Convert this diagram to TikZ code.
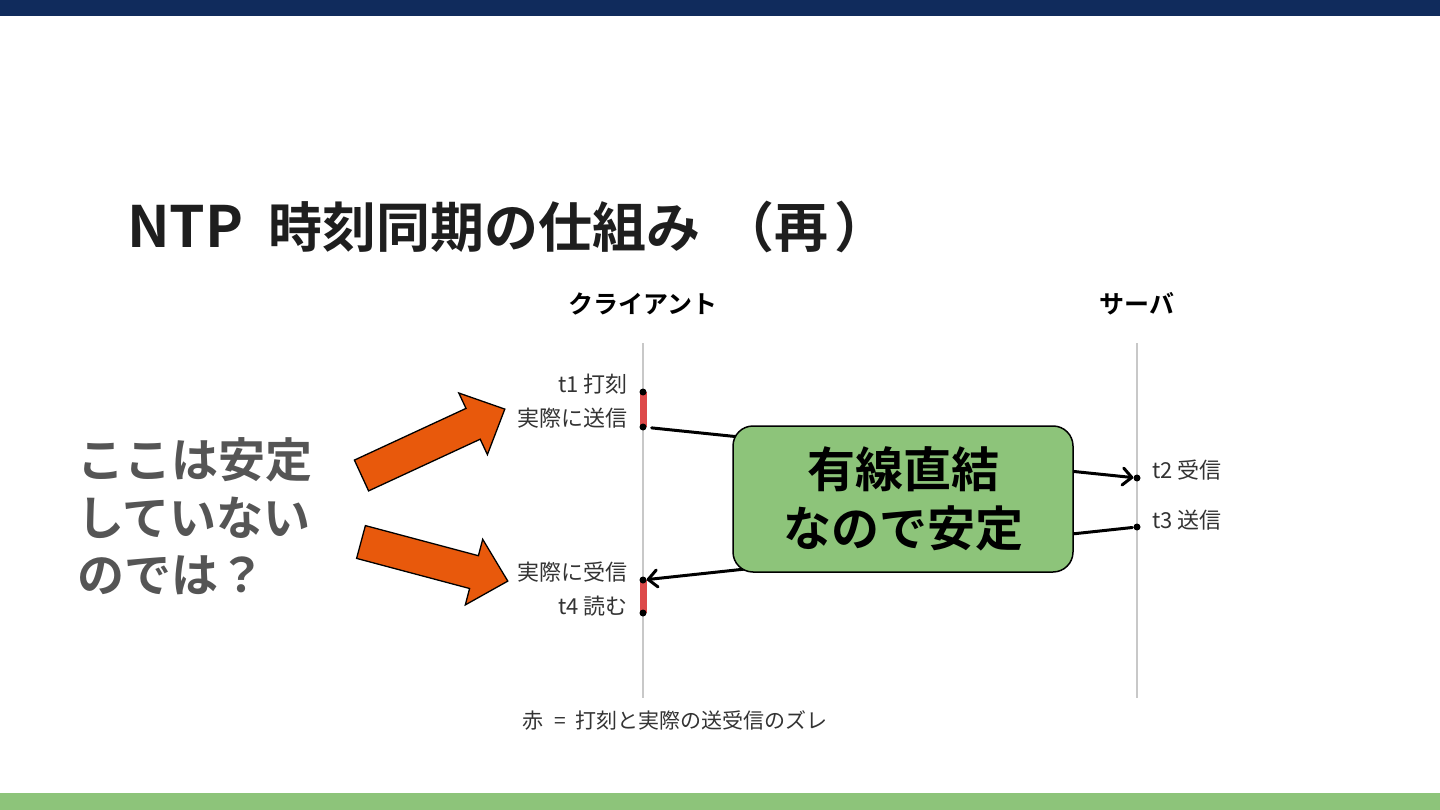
\documentclass[tikz,border=0pt]{standalone}
\usepackage{fontspec}
\setmainfont{Noto Sans CJK JP}[BoldFont={Noto Sans CJK JP Bold}]
\usetikzlibrary{arrows.meta}
\definecolor{navy}{HTML}{102B5C}
\definecolor{bargreen}{HTML}{8DC47A}
\definecolor{boxgreen}{HTML}{8DC47A}
\definecolor{orangefill}{HTML}{E8590C}
\definecolor{redseg}{HTML}{DD4A4A}
\definecolor{lifegray}{HTML}{C8C8C8}
\definecolor{titletext}{HTML}{1E1E1E}
\definecolor{labeltext}{HTML}{333333}
\definecolor{asktext}{HTML}{555555}
\begin{document}
\begin{tikzpicture}[x=1pt,y=-1pt,
  lifeline/.style={draw=lifegray,line width=2pt},
  redbar/.style={draw=redseg,line width=7pt},
  dotnode/.style={circle,fill=black,inner sep=0pt,minimum size=7pt},
  msg/.style={draw=black,line width=3pt,line cap=round,line join=round,
    -{Straight Barb[length=9pt,width=17pt,round]}},
  lbl/.style={inner sep=0pt,text=labeltext,font=\fontsize{22}{26}\selectfont},
  head/.style={inner sep=0pt,text=black,font=\fontsize{25}{30}\selectfont\bfseries},
  greenbox/.style={draw=black,line width=1.5pt,fill=boxgreen,rounded corners=20pt,
    minimum width=340pt,minimum height=146pt,inner sep=0pt,align=center,
    font=\fontsize{48}{59}\selectfont\bfseries},
  blockarrow/.style={fill=orangefill,draw=black,line width=1.3pt,line join=miter}]
\useasboundingbox (0,0) rectangle (1440,810);
\fill[navy] (0,0) rectangle (1440,16);
\fill[bargreen] (0,793) rectangle (1440,810);

% title
\node[anchor=base west,inner sep=0pt,text=titletext,font=\fontsize{54}{60}\selectfont\bfseries]
  (title) at (127,248) {{\fontsize{57}{62}\selectfont NTP}\kern25pt 時刻同期の仕組み\kern20pt（再\kern6pt）};

% headings
\node[head] (client) at (643,303.5) {クライアント};
\node[head] (server) at (1137,303.5) {サーバ};

% lifelines
\coordinate (ctop) at (643,343);
\coordinate (cbot) at (643,698);
\coordinate (stop) at (1137,343);
\coordinate (sbot) at (1137,698);
\draw[lifeline] (ctop) -- (cbot);
\draw[lifeline] (stop) -- (sbot);

% red segments and dots
\coordinate (r1a) at (643,392);
\coordinate (r1b) at (643,427);
\coordinate (r2a) at (643,580);
\coordinate (r2b) at (643,613);
\draw[redbar] (r1a) -- (r1b);
\draw[redbar] (r2a) -- (r2b);
\node[dotnode] (c1a) at (r1a) {};
\node[dotnode] (c1b) at (r1b) {};
\node[dotnode] (c2a) at (r2a) {};
\node[dotnode] (c2b) at (r2b) {};
\node[dotnode] (s1) at (1137,478) {};
\node[dotnode] (s2) at (1137,527) {};

% messages (behind the box)
\draw[msg,shorten <=5pt] (c1b) -- (s1);
\draw[msg,shorten <=1pt] (s2) -- (c2a);

% labels
\node[lbl,anchor=east] (t1) at (628,384) {t1 打刻};
\node[lbl,anchor=east] (send) at (628,418) {実際に送信};
\node[lbl,anchor=east] (recv) at (628,572.5) {実際に受信};
\node[lbl,anchor=east] (t4) at (628,606.5) {t4 読む};
\node[lbl,anchor=west] (t2) at (1152,470) {t2 受信};
\node[lbl,anchor=west] (t3) at (1152,520) {t3 送信};

% green box
\node[greenbox] (box) at (903,499) {有線直結\\なので安定};

% caption
\node[inner sep=0pt,text=labeltext,font=\fontsize{21}{24}\selectfont] (cap) at (675,720)
  {赤\kern6pt{} = \kern4pt{}打刻と実際の送受信のズレ};

% left question
\node[anchor=west,inner sep=0pt,align=left,text=asktext,font=\fontsize{47}{57.5}\selectfont\bfseries]
  (ask) at (77,516.5) {ここは安定\\していない\\のでは？};

% orange block arrows
\filldraw[blockarrow] (354.4,460.1) -- (466.0,408.4) -- (458.8,393.0) -- (504.8,409.1)
  -- (487.4,454.6) -- (480.2,439.2) -- (368.6,490.9) -- cycle;
\filldraw[blockarrow] (365.4,525.6) -- (478.4,555.7) -- (482.7,539.3) -- (507.8,581.1)
  -- (465.3,604.9) -- (469.6,588.5) -- (356.6,558.4) -- cycle;
\end{tikzpicture}
\end{document}
